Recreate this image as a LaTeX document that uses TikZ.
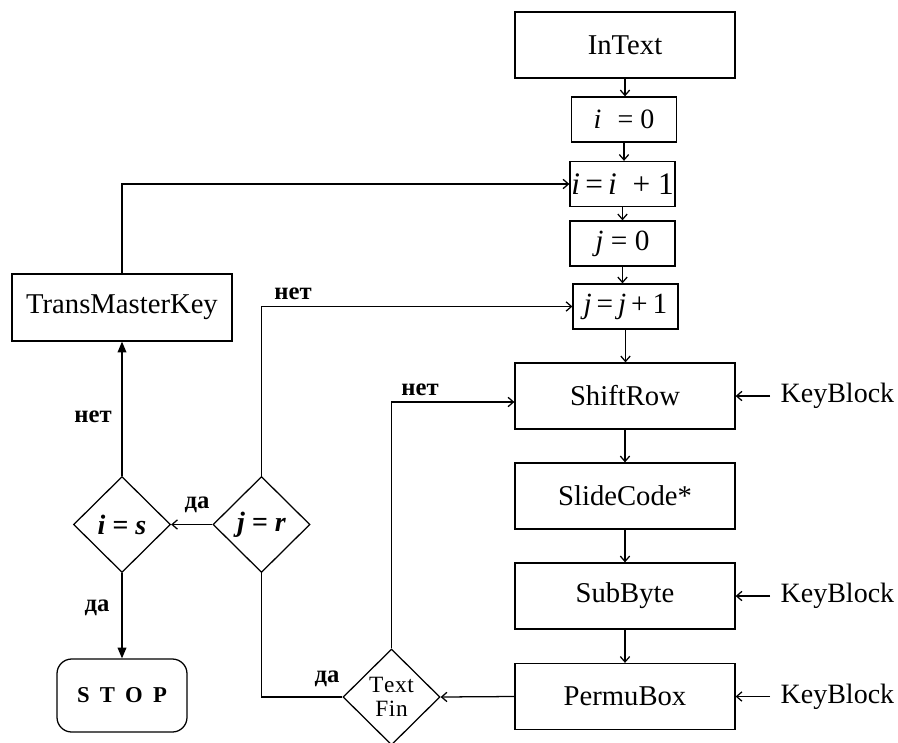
\documentclass[tikz,border=0pt]{standalone}
\usepackage{fontspec}
\setmainfont{Liberation Serif}
\usetikzlibrary{shapes.geometric,arrows.meta}
\begin{document}
\begin{tikzpicture}[x=0.75pt,y=-0.75pt,line width=0.95pt,
  blk/.style={draw,rectangle,inner sep=0pt,minimum width=165pt,minimum height=49.5pt,
    font=\fontsize{21.5}{25}\selectfont},
  small/.style={draw,rectangle,inner sep=0pt,minimum width=78.75pt,minimum height=33.75pt},
  dec/.style={draw,diamond,inner sep=0pt,minimum width=72.75pt,minimum height=72pt},
  arr/.style={-{Straight Barb[length=4pt,width=7pt]}},
  farr/.style={-{Triangle[length=8pt,width=6.5pt]}},
  lbl/.style={font=\fontsize{18.5}{20}\selectfont\bfseries,inner sep=0pt},
  keytxt/.style={font=\fontsize{21}{24}\selectfont,anchor=west,inner xsep=7.5pt,inner ysep=0pt},
]
\useasboundingbox (0,0) rectangle (898,742);

% main column
\node[blk] (intext) at (625,45) {InText};
\node[small,font=\fontsize{21}{24}\selectfont] (i0) at (624,119.5) {\textit{i}\,\, = 0};
\node[small,font=\fontsize{23.5}{26}\selectfont] (ii) at (622.5,184) {\textit{i}\,=\,\textit{i}\ \ + 1};
\node[small,font=\fontsize{22}{24}\selectfont] (j0) at (622.5,243.5) {\textit{j} = 0};
\node[small,font=\fontsize{22}{24}\selectfont] (jj) at (625.5,306.5) {\textit{j}\,=\,\textit{j}\,+\,1};
\node[blk] (shift) at (625,396) {ShiftRow};
\node[blk] (slide) at (625,496) {SlideCode*};
\node[blk] (sub) at (625,596) {SubByte};
\node[blk] (permu) at (625,696.5) {PermuBox};

% key inputs
\node[keytxt] (kb1) at (770,396) {KeyBlock};
\node[keytxt] (kb2) at (770,596) {KeyBlock};
\node[keytxt] (kb3) at (770,696.5) {KeyBlock};

% left part
\node[blk,minimum height=50.25pt] (tmk) at (122,307.5) {TransMasterKey};
\node[dec,font=\fontsize{21}{24}\selectfont\bfseries\itshape] (is) at (122,524.5) {i = s};
\node[dec,font=\fontsize{21}{24}\selectfont\bfseries\itshape] (jr) at (261.5,524.5) {j = r};
\node[dec,align=center,font=\fontsize{17.5}{18}\selectfont] (tf) at (391.5,697) {T\kern0.5pt e\kern0.5pt x\kern0.5pt t\\F\kern0.5pt i\kern0.5pt n};
\node[draw,rectangle,rounded corners=11pt,inner sep=0pt,minimum width=97.5pt,minimum height=54.75pt,
  font=\fontsize{17}{20}\selectfont\bfseries] (stop) at (122,695.5)
  {S\hspace{0.45em}T\hspace{0.45em}O\hspace{0.45em}P};

\coordinate (shiftin) at ([yshift=-4.5pt]shift.west);

% branch labels
\node[lbl] (l1) at (293,294) {нет};
\node[lbl] (l2) at (420,390) {нет};
\node[lbl] (l3) at (93,417) {нет};
\node[lbl] (l4) at (197,505) {да};
\node[lbl] (l5) at (97,608) {да};
\node[lbl] (l6) at (327,679) {да};

% column connectors
\draw[arr] (intext.south) -- (intext.south |- i0.north);
\draw[arr] (i0.south) -- (i0.south |- ii.north);
\draw[arr] (ii.south) -- (ii.south |- j0.north);
\draw[arr] (j0.south) -- (j0.south |- jj.north);
\draw[arr] (jj.south) -- (jj.south |- shift.north);
\draw[arr] (shift.south) -- (slide.north);
\draw[arr] (slide.south) -- (sub.north);
\draw[arr] (sub.south) -- (permu.north);

\draw[arr] (kb1.west) -- (shift.east);
\draw[arr] (kb2.west) -- (sub.east);
\draw[arr] (kb3.west) -- (permu.east);

% loops and decisions
\draw[arr] (tmk.north) |- (ii.west);
\draw[arr] (jr.north) |- (jj.west);
\draw[arr] (jr.west) -- (is.east);
\draw[farr] (is.north) -- (tmk.south);
\draw[farr] (is.south) -- (stop.north);
\draw (jr.south) |- (tf.west);
\draw[arr] (permu.west) -- (tf.east);
\draw[arr] (tf.north) |- (shiftin);
\end{tikzpicture}
\end{document}
